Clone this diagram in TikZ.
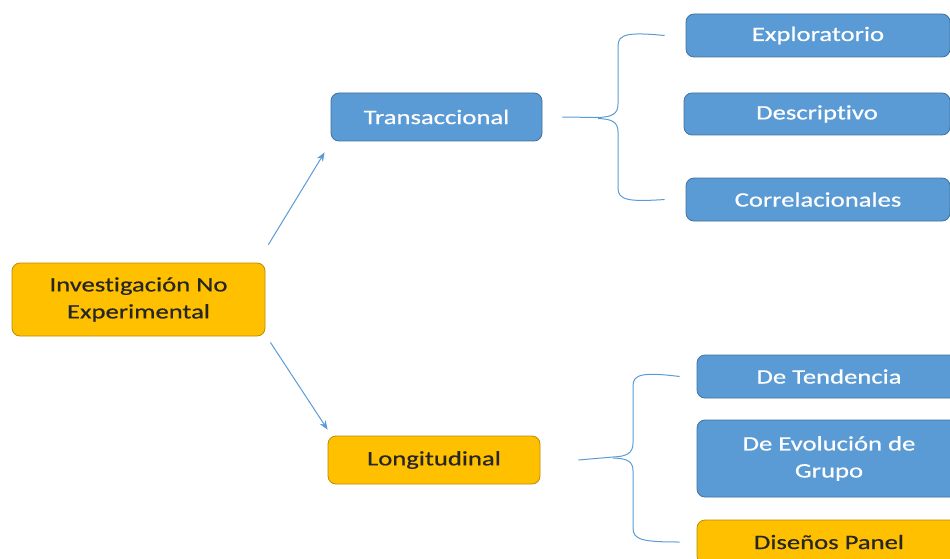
\documentclass[tikz,border=0pt]{standalone}
\usepackage{fontspec}
\setmainfont{Carlito}[FakeStretch=1.3, FakeBold=0.6, Ligatures=NoCommon]
\usetikzlibrary{arrows.meta,calc}
\definecolor{bluefill}{HTML}{5B9BD5}
\definecolor{blueline}{HTML}{41719C}
\definecolor{yelfill}{HTML}{FFC000}
\definecolor{yelline}{HTML}{BC8C00}
\definecolor{darktext}{HTML}{262626}
\begin{document}
\begin{tikzpicture}[x=1pt,y=-1pt,
  box/.style={rounded corners=8pt, line width=0.8pt, inner sep=0pt, align=center,
    font=\fontsize{20.5}{27}\selectfont},
  bluebox/.style={box, fill=bluefill, draw=blueline, text=white},
  yelbox/.style={box, fill=yelfill, draw=yelline, text=darktext},
  arr/.style={draw=bluefill, line width=1pt, -{Stealth[length=9pt,width=7pt]}},
  brace/.style={draw=bluefill, line width=1pt}]
\useasboundingbox (0,0) rectangle (950,559);
\clip (0,0) rectangle (950,559);
% main nodes
\node[yelbox, minimum width=253pt, minimum height=73pt] (root) at (138.5,299.5) {Investigación No\\Experimental};
\node[bluebox, minimum width=211pt, minimum height=48pt] (trans) at (436.5,117) {Transaccional};
\node[yelbox, minimum width=212pt, minimum height=48pt] (long) at (434,460) {Longitudinal};
% transaccional children
\node[bluebox, minimum width=264pt, minimum height=43pt] (expl) at (818,35.5) {Exploratorio};
\node[bluebox, minimum width=266pt, minimum height=42pt] (desc) at (817,114) {Descriptivo};
\node[bluebox, minimum width=264pt, minimum height=43pt] (corr) at (818,199.5) {Correlacionales};
% longitudinal children
\node[bluebox, minimum width=264pt, minimum height=43pt] (tend) at (829,376.5) {De Tendencia};
\node[bluebox, minimum width=264pt, minimum height=77pt] (evol) at (829,458.5) {De Evolución de\\Grupo};
\node[yelbox, minimum width=264pt, minimum height=44pt] (panel) at (829,542) {Diseños Panel};
% arrows
\draw[arr] ([shift={(3,-18)}]root.north east) -- ([shift={(-6,11)}]trans.south west);
\draw[arr] ([shift={(5,6)}]root.south east) -- ([shift={(0,-6)}]long.north west);
% brace 1
\coordinate (b1tip) at ([xshift=20]trans.east);
\coordinate (b1top) at ([xshift=-21]expl.west);
\coordinate (b1bot) at ([xshift=-21]corr.west);
\draw[brace] (b1top) .. controls (628,32) and (618,34) .. (618,46) -- (618,104)
  .. controls (618,114) and (612,117) .. (598,117.5) -- (b1tip);
\draw[brace] (598,118.5) .. controls (612,119) and (618,122) .. (618,132) -- (618,188)
  .. controls (618,200) and (628,202) .. (b1bot);
% brace 2
\coordinate (b2tip) at ([xshift=38]long.east);
\coordinate (b2top) at ([xshift=-17]tend.west);
\coordinate (b2bot) at ([xshift=-17]panel.west);
\draw[brace] (b2top) .. controls (643,372) and (633,374) .. (633,386) -- (633,443)
  .. controls (633,453) and (627,456.5) .. (613,457) -- (b2tip);
\draw[brace] (613,458) .. controls (627,458.5) and (633,461) .. (633,471) -- (633,528)
  .. controls (633,540) and (643,542) .. (b2bot);
\end{tikzpicture}
\end{document}
